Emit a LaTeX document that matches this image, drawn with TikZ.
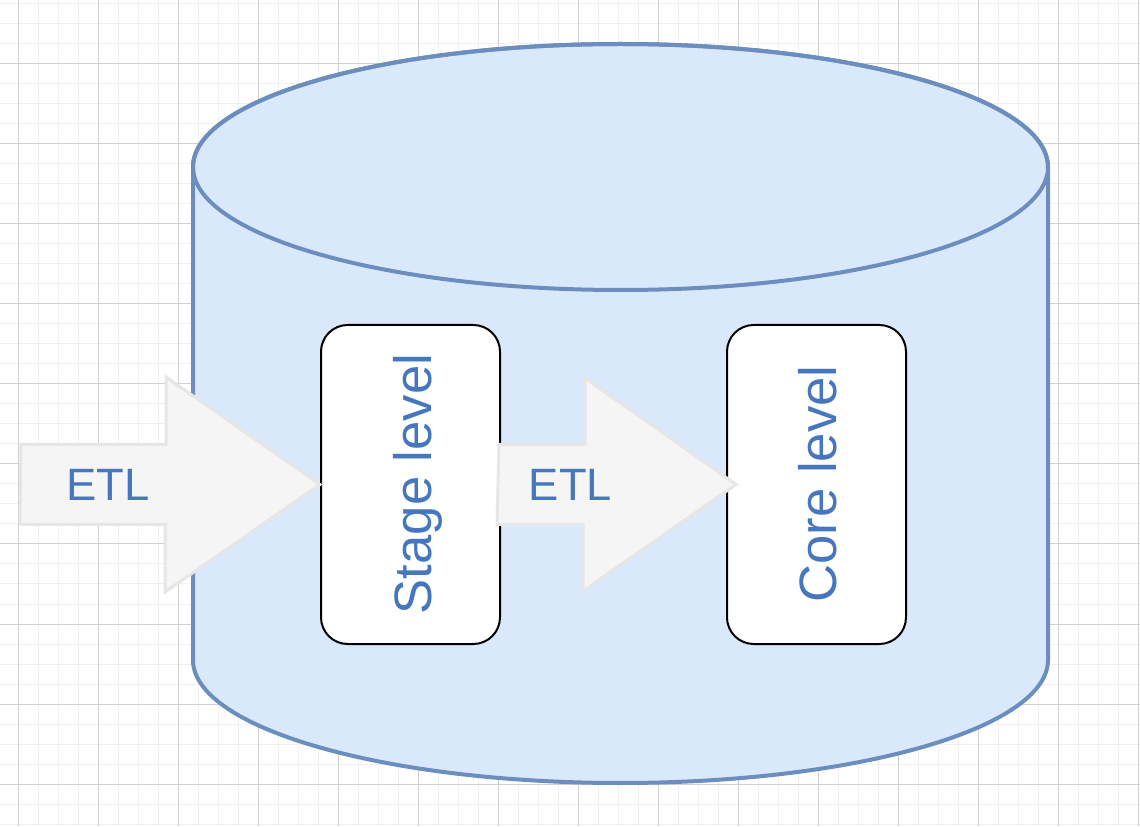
\documentclass[tikz,border=0pt]{standalone}
\usepackage{fontspec}
\setmainfont{Liberation Sans}
\usetikzlibrary{calc}
\definecolor{myblue}{RGB}{218, 232, 252}
\definecolor{myblue2}{RGB}{108, 142, 191}
\definecolor{mytext}{RGB}{70, 119, 190}
\definecolor{mygray}{RGB}{245, 245, 245}
\definecolor{mygray2}{RGB}{230, 230, 230}
\definecolor{mygrid}{RGB}{240, 240, 240}
\definecolor{mygrid2}{RGB}{208, 208, 208}
\tikzset{
  levelbox/.style={draw, line width=1.5pt, fill=white, rounded corners=20pt,
    minimum width=134.25pt, minimum height=239.25pt, inner sep=0pt},
  leveltext/.style={rotate=90, anchor=base, text=mytext,
    font=\fontsize{39.5}{40}\selectfont},
  etlarrow/.style={draw=mygray2, fill=mygray, line width=2.25pt},
  etltext/.style={anchor=base, text=mytext, font=\fontsize{34}{34}\selectfont}
}
\begin{document}
\begin{tikzpicture}[x=0.75pt, y=0.75pt]
\useasboundingbox (0,0) rectangle (1140,826);
\fill[white] (0,0) rectangle (1140,826);
% grid
\foreach \x in {18,38,...,1138} \draw[mygrid, line width=0.75pt] (\x,0) -- (\x,826);
\foreach \y in {2,22,...,822} \draw[mygrid, line width=0.75pt] (0,\y) -- (1140,\y);
\foreach \x in {18,98,...,1138} \draw[mygrid2, line width=0.75pt] (\x,0) -- (\x,826);
\foreach \y in {42,122,...,762} \draw[mygrid2, line width=0.75pt] (0,\y) -- (1140,\y);
% database
\draw[myblue2, fill=myblue, line width=3pt] (193,659) -- (193,166)
  arc[start angle=180, end angle=360, x radius=427.5, y radius=123] -- (1048,659)
  arc[start angle=0, end angle=180, x radius=427.5, y radius=123] -- cycle;
\draw[myblue2, line width=3pt] (620.5,659) ellipse [x radius=427.5, y radius=123];
% levels
\node[levelbox] (stage) at (410.5,341.5) {};
\node[levelbox] (core) at (816.5,341.5) {};
\node[leveltext] (stagetext) at (431,342) {Stage level};
\node[leveltext] (coretext) at (836,342) {Core level};
% ETL arrows
\coordinate (src) at (21,341.5);
\draw[etlarrow] ($(src)+(0,40)$) -- ++(145,0) -- ++(0,67.5) -- (stage.west)
  -- ++(-155,-107.5) -- ++(0,67.5) -- ++(-145,0) -- cycle;
\draw[etlarrow] ($(stage.east)+(-2,40)$) -- ++(86,0) -- ++(0,66.5) -- ($(core.west)+(10,0)$)
  -- ++(-153,-106.5) -- ++(0,66.5) -- ++(-86,0) -- cycle;
\node[etltext] (etl1) at (108,325) {ETL};
\node[etltext] (etl2) at (570.5,325) {ETL};
\end{tikzpicture}
\end{document}
